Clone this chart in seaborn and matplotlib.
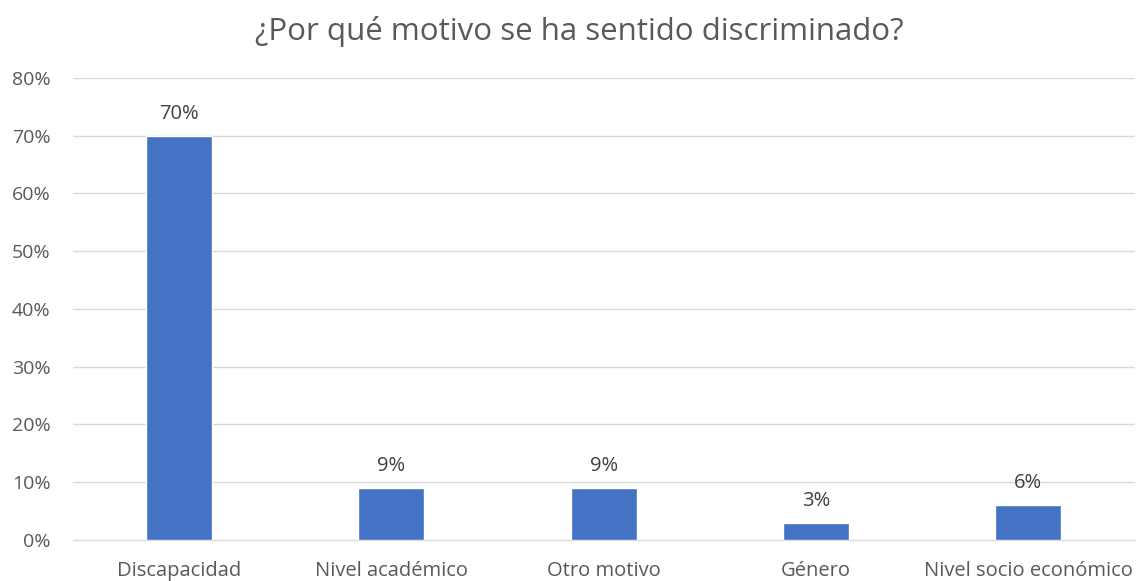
import matplotlib
matplotlib.use('Agg')
import matplotlib.pyplot as plt
import seaborn as sns
import pandas as pd

# Data
categorias = ['Discapacidad', 'Nivel académico', 'Otro motivo', 'Género', 'Nivel socio económico']
porcentajes = [0.70, 0.09, 0.09, 0.03, 0.06]
etiquetas = ['70%', '9%', '9%', '3%', '6%']
yticks = [0, 0.1, 0.2, 0.3, 0.4, 0.5, 0.6, 0.7, 0.8]

df = pd.DataFrame({'Motivo': categorias, 'Porcentaje': porcentajes})

sns.set_style('white')
plt.rcParams['font.family'] = ['Open Sans', 'DejaVu Sans']

fig = plt.figure(figsize=(11.38, 5.81), dpi=100)
ax = fig.add_axes([0.064, 0.0706, 0.933, 0.7954])

sns.barplot(data=df, x='Motivo', y='Porcentaje', color='#4472C4', saturation=1,
            width=0.31, ax=ax, zorder=3)

ax.set_ylim(0, 0.8)
ax.set_yticks(yticks)
ax.set_yticklabels([f'{int(round(t*100))}%' for t in yticks], fontsize=14, color='#595959')
ax.tick_params(axis='x', labelsize=14.5, labelcolor='#595959', length=0, pad=15)
ax.tick_params(axis='y', length=0, pad=16)
ax.grid(axis='y', color='#D9D9D9', linewidth=1, zorder=0)
ax.set_xlabel('')
ax.set_ylabel('')
for s in ['top', 'right', 'left']:
    ax.spines[s].set_visible(False)
ax.spines['bottom'].set_color('#D9D9D9')

# data labels
for i, (v, t) in enumerate(zip(porcentajes, etiquetas)):
    ax.text(i, v + 0.038, t, ha='center', va='center', fontsize=14.5, color='#404040', zorder=4)

fig.text(0.509, 0.946, '¿Por qué motivo se ha sentido discriminado?', ha='center', va='center',
         fontsize=22.5, color='#595959')

plt.savefig('out.png', dpi=100)
